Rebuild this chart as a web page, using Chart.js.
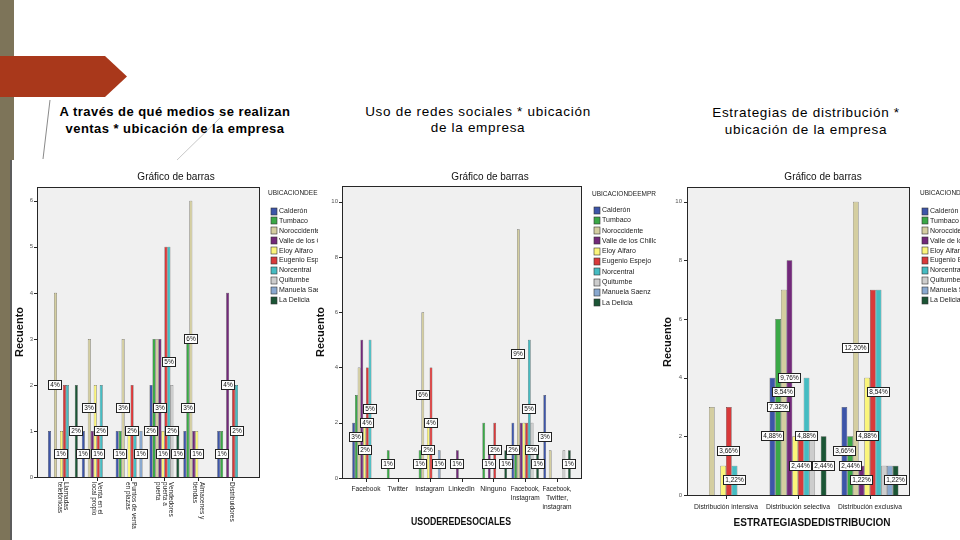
<!DOCTYPE html>
<html><head><meta charset="utf-8">
<script src="https://cdn.jsdelivr.net/npm/chart.js@4"></script>
<style>
html,body{margin:0;padding:0;background:#fff;}
body{width:960px;height:540px;position:relative;overflow:hidden;font-family:"Liberation Sans",Arial,sans-serif;}
.abs{position:absolute;}
canvas{position:absolute;}
.t{position:absolute;text-align:center;color:#000;white-space:nowrap;}
</style></head><body>
<div class="abs" style="left:0;top:0;width:14px;height:160px;background:#7d7459"></div>
<div class="abs" style="left:0;top:160px;width:10px;height:380px;background:#7d7459"></div>
<div class="abs" style="left:10px;top:160px;width:2px;height:380px;background:#5c5c5c"></div>
<div class="abs" style="left:0;top:56px;width:127px;height:41px;background:#a9381b;clip-path:polygon(0 0,105px 0,127px 20.5px,105px 41px,0 41px)"></div>
<svg class="abs" style="left:0;top:0" width="960" height="540"><line x1="50" y1="100" x2="43" y2="159" stroke="#8a8a8a"/><line x1="220" y1="118" x2="177" y2="160" stroke="#c8c8c8"/></svg>
<div class="t" style="left:25px;top:103px;width:300px;font-size:13px;font-weight:bold;letter-spacing:0.45px;line-height:17px">A través de qué medios se realizan<br>ventas * ubicación de la empresa</div>
<div class="t" style="left:328px;top:103.5px;width:300px;font-size:13.5px;letter-spacing:0.7px;line-height:16.5px">Uso de redes sociales * ubicación<br>de la empresa</div>
<div class="t" style="left:656px;top:104px;width:300px;font-size:13.5px;letter-spacing:0.7px;line-height:17px">Estrategias de distribución *<br>ubicación de la empresa</div>
<canvas id="c1" width="320" height="380" style="left:10px;top:160px"></canvas>
<canvas id="c2" width="350" height="380" style="left:310px;top:160px"></canvas>
<canvas id="c3" width="300" height="380" style="left:660px;top:160px"></canvas>
<script>
// ---------- DATA ----------
const zonas = ["Calderón","Tumbaco","Noroccidente","Valle de los Chillos","Eloy Alfaro","Eugenio Espejo","Norcentral","Quitumbe","Manuela Saenz","La Delicia"];
const legendTitle = "UBICACIONDEEMPRESA";

// Chart 1: A través de qué medios se realizan ventas
const mediosVenta = [["Llamadas","telefónicas"],["Venta en el","local propio"],["Puntos de venta","en plazas"],["Vendedores","puerta a","puerta"],["Almacenes y","tiendas"],["Distribuidores"]];
const ventasPorZona = [
  [1,1,1,2,1,1],
  [0,0,1,3,3,1],
  [4,3,3,3,6,0],
  [0,1,0,3,1,4],
  [1,2,1,1,1,0],
  [2,1,2,5,0,2],
  [2,2,1,5,0,2],
  [0,0,0,2,0,0],
  [0,0,1,0,0,0],
  [2,0,0,1,0,0]
];
const ticksVentas = [0,1,2,3,4,5,6];
const baseVentas = 100;

// Chart 2: Uso de redes sociales
const redes = [["Facebook"],["Twitter"],["Instagram"],["LinkedIn"],["Ninguno"],["Facebook,","Instagram"],["Facebook,","Twitter,","instagram"]];
const redesPorZona = [
  [2,0,0,0,0,2,3],
  [3,1,1,0,2,1,0],
  [4,0,6,0,0,9,1],
  [5,0,0,1,1,2,0],
  [2,0,2,0,0,2,0],
  [4,0,4,0,2,2,0],
  [5,0,0,0,0,5,0],
  [0,0,0,0,0,2,1],
  [0,0,1,0,0,0,0],
  [0,0,0,0,1,1,1]
];
const ticksRedes = [0,2,4,6,8,10];
const baseRedes = 100;

// Chart 3: Estrategias de distribución
const estrategias = [["Distribución intensiva"],["Distribución selectiva"],["Distribución exclusiva"]];
const estrategiasPorZona = [
  [0,4,3],
  [0,6,2],
  [3,7,10],
  [0,8,1],
  [1,2,4],
  [3,2,7],
  [1,4,7],
  [0,2,1],
  [0,0,1],
  [0,2,1]
];
const ticksEstrategias = [0,2,4,6,8,10];
const baseEstrategias = 82;

// ---------- STYLE ----------
const colores = ["#3d55a8","#3aa846","#d4cea0","#72297a","#fbf57a","#d9393a","#45bcc2","#cdcdcd","#89a8cf","#1b5535"];
const FF = '"Liberation Sans", Arial, sans-serif';
Chart.defaults.font.family = FF;

const spss = {
  id: 'spss',
  beforeDraw(chart, _a, o) {
    const a = chart.chartArea, ctx = chart.ctx;
    ctx.save(); ctx.fillStyle = '#f0f0f0';
    ctx.fillRect(a.left - o.padL, a.top, (a.right + o.padR) - (a.left - o.padL), a.bottom - a.top);
    ctx.restore();
  },
  afterDatasetsDraw(chart, _a, o) {
    const a = chart.chartArea, ctx = chart.ctx, xs = chart.scales.x, ys = chart.scales.y;
    const L = Math.round(a.left - o.padL), R = Math.round(a.right + o.padR), T = Math.round(a.top), B = Math.round(a.bottom);
    ctx.save();
    ctx.strokeStyle = '#262626'; ctx.lineWidth = 1;
    ctx.strokeRect(L + 0.5, T + 0.5, R - L, B - T);
    ctx.beginPath();
    ys.ticks.forEach(t => { const y = Math.round(ys.getPixelForValue(t.value)) + 0.5; ctx.moveTo(L - 3, y); ctx.lineTo(L, y); });
    o.cats.forEach((c, j) => { const x = Math.round(xs.getPixelForValue(j)) + 0.5; ctx.moveTo(x, B); ctx.lineTo(x, B + 4); });
    ctx.stroke();
    // percentage labels
    ctx.font = '6.5px ' + FF;
    const placed = [];
    const n = chart.data.datasets.length;
    for (let j = 0; j < o.cats.length; j++) {
      for (let i = n - 1; i >= 0; i--) {
        const v = chart.data.datasets[i].data[j];
        if (!v) continue;
        const el = chart.getDatasetMeta(i).data[j];
        const txt = o.pct(v);
        const w = Math.ceil(ctx.measureText(txt).width) + 4, h = 10;
        const cx = el.x, cy = (el.y + el.base) / 2;
        const r = {x: Math.round(cx - w / 2), y: Math.round(cy - h / 2), w, h, txt};
        if (placed.some(p => r.x < p.x + p.w && p.x < r.x + r.w && r.y < p.y + p.h && p.y < r.y + r.h)) continue;
        placed.push(r);
      }
    }
    ctx.textAlign = 'center'; ctx.textBaseline = 'middle';
    placed.forEach(r => {
      ctx.fillStyle = '#ffffff'; ctx.fillRect(r.x, r.y, r.w, r.h);
      ctx.strokeStyle = '#222'; ctx.strokeRect(r.x + 0.5, r.y + 0.5, r.w - 1, r.h - 1);
      ctx.fillStyle = '#111'; ctx.fillText(r.txt, r.x + r.w / 2, r.y + r.h / 2 + 0.5);
    });
    // category labels
    ctx.fillStyle = '#1a1a1a';
    ctx.font = o.catFont + ' ' + FF;
    o.cats.forEach((lines, j) => {
      const x = xs.getPixelForValue(j);
      if (o.catRot) {
        ctx.save(); ctx.translate(x, B + 5); ctx.rotate(Math.PI / 2);
        ctx.textAlign = 'left'; ctx.textBaseline = 'middle';
        lines.forEach((s, k) => ctx.fillText(s, 0, (k - (lines.length - 1) / 2) * o.catStep, o.catMaxW));
        ctx.restore();
      } else {
        ctx.textAlign = 'center'; ctx.textBaseline = 'middle';
        lines.forEach((s, k) => ctx.fillText(s, x, B + o.catDy + k * o.catStep, o.catMaxW));
      }
    });
    // chart title
    ctx.fillStyle = '#111'; ctx.textAlign = 'center'; ctx.textBaseline = 'middle';
    ctx.font = '10px ' + FF;
    ctx.fillText('Gráfico de barras', o.titleX, o.titleY);
    // y title
    ctx.save(); ctx.translate(o.yTitleX, o.yTitleY); ctx.rotate(-Math.PI / 2);
    ctx.font = 'bold 11px ' + FF; ctx.fillText('Recuento', 0, 0); ctx.restore();
    // x title
    if (o.xTitle) { ctx.font = 'bold 11px ' + FF; ctx.fillText(o.xTitle, o.xTitleX, o.xTitleY, o.xTitleW); }
    // legend
    ctx.save();
    ctx.beginPath(); ctx.rect(o.legX - 4, 0, o.legClip - o.legX + 4, chart.height); ctx.clip();
    ctx.textAlign = 'left'; ctx.textBaseline = 'middle';
    ctx.font = '6.5px ' + FF; ctx.fillStyle = '#222';
    ctx.fillText(legendTitle, o.legX, o.legY);
    ctx.font = '7px ' + FF;
    chart.data.datasets.forEach((d, k) => {
      const y = o.legY0 + k * o.legStep;
      ctx.fillStyle = d.backgroundColor; ctx.fillRect(o.legSqX, Math.round(y - 3.5), 6, 7);
      ctx.strokeStyle = '#333'; ctx.lineWidth = 0.6; ctx.strokeRect(o.legSqX, Math.round(y - 3.5), 6, 7);
      ctx.fillStyle = '#222'; ctx.fillText(d.label, o.legSqX + 8, y);
    });
    ctx.restore();
    ctx.restore();
  }
};

function makeChart(id, cats, series, yTicks, cfg) {
  return new Chart(document.getElementById(id), {
    type: 'bar',
    data: {
      labels: cats.map(c => c.join(' ')),
      datasets: zonas.map((nm, i) => ({
        label: nm, data: series[i], backgroundColor: colores[i],
        borderColor: 'rgba(20,20,20,0.85)', borderWidth: 0.5,
        categoryPercentage: cfg.catPct, barPercentage: 1
      }))
    },
    options: {
      responsive: false, animation: false, devicePixelRatio: 1,
      layout: { padding: { left: 0, top: cfg.top, right: cfg.right, bottom: 0 } },
      plugins: { legend: { display: false }, title: { display: false }, tooltip: { enabled: false }, spss: Object.assign({ cats }, cfg) },
      scales: {
        x: { grid: { display: false, drawTicks: false }, border: { display: false }, ticks: { display: false },
             afterFit: s => { s.height = cfg.xH; } },
        y: { min: 0, max: cfg.yMax, grid: { display: false, drawTicks: false }, border: { display: false },
             ticks: { font: { size: 6 }, color: '#555', padding: cfg.tickPad },
             afterBuildTicks: s => { s.ticks = yTicks.map(v => ({ value: v })); },
             afterFit: s => { s.width = cfg.yW; } }
      }
    },
    plugins: [spss]
  });
}

makeChart('c1', mediosVenta, ventasPorZona, ticksVentas, {
  top: 27, right: 81, yW: 36, xH: 63, yMax: 6.3, padL: 9, padR: 10, tickPad: 13, catPct: 0.88,
  pct: v => Math.round(v / baseVentas * 100) + '%',
  catRot: true, catFont: '6.5px', catStep: 6.5, catMaxW: 48,
  titleX: 166, titleY: 17, yTitleX: 10, yTitleY: 172, xTitle: '',
  legX: 258, legY: 33, legSqX: 261, legY0: 51, legStep: 9.9, legClip: 308
});
makeChart('c2', redes, redesPorZona, ticksRedes, {
  top: 26, right: 87, yW: 40, xH: 62, yMax: 10.57, padL: 8, padR: 8, tickPad: 12, catPct: 0.86,
  pct: v => Math.round(v / baseRedes * 100) + '%',
  catRot: false, catFont: '7px', catStep: 9, catDy: 11, catMaxW: 29,
  titleX: 180, titleY: 17, yTitleX: 11, yTitleY: 172,
  xTitle: 'USODEREDESOCIALES', xTitleX: 151, xTitleY: 362, xTitleW: 100,
  legX: 282, legY: 34, legSqX: 284, legY0: 50, legStep: 10.3, legClip: 346
});
makeChart('c3', estrategias, estrategiasPorZona, ticksEstrategias, {
  top: 27, right: 54, yW: 30, xH: 45, yMax: 10.5, padL: 3, padR: 3, tickPad: 8, catPct: 0.79,
  pct: v => (v / baseEstrategias * 100).toFixed(2).replace('.', ',') + '%',
  catRot: false, catFont: '7px', catStep: 9, catDy: 12, catMaxW: 64,
  titleX: 163, titleY: 17, yTitleX: 8, yTitleY: 182,
  xTitle: 'ESTRATEGIASDEDISTRIBUCION', xTitleX: 152, xTitleY: 363, xTitleW: 157,
  legX: 260, legY: 33, legSqX: 262, legY0: 51, legStep: 9.9, legClip: 300
});
</script>
</body></html>
